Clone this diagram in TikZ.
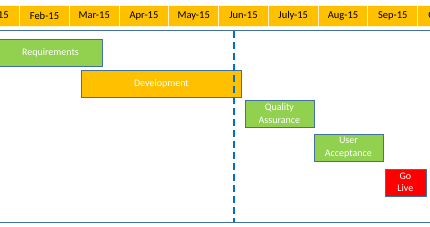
\documentclass[tikz,border=0pt]{standalone}
\usepackage{fontspec}
\setmainfont{Carlito}
\definecolor{hdr}{RGB}{255,192,0}
\definecolor{grn}{RGB}{146,208,80}
\definecolor{edge}{RGB}{65,113,156}
\definecolor{todayblue}{RGB}{0,112,192}
\begin{document}
\begin{tikzpicture}[x=1pt,y=-1pt,
  month/.style={fill=hdr,draw=white!80!hdr,line width=1.2pt,minimum width=49.75pt,minimum height=21pt,inner sep=0pt,font=\fontsize{10.5}{12}\selectfont,anchor=north west},
  bar/.style={draw=edge,line width=0.8pt,inner sep=0pt,anchor=north west,text=white,align=center,font=\fontsize{10}{12.5}\selectfont},
  rule/.style={draw=edge,line width=0.8pt}]
\useasboundingbox (0,0) rectangle (430,226);
\begin{scope}
\clip (0,0) rectangle (430,226);
\node[month] (jan) at (-30.75,4.5) {Jan-15};
\node[month] (feb) at (19,4.5) {Feb-15};
\node[month] (mar) at (68.75,4.5) {Mar-15};
\node[month] (apr) at (118.5,4.5) {Apr-15};
\node[month] (may) at (168.25,4.5) {May-15};
\node[month] (jun) at (218,4.5) {Jun-15};
\node[month] (jul) at (267.75,4.5) {July-15};
\node[month] (aug) at (317.5,4.5) {Aug-15};
\node[month] (sep) at (367.25,4.5) {Sep-15};
\node[month] (oct) at (417,4.5) {Oct-15};
\end{scope}
\coordinate (tl) at (0,30.5);
\coordinate (tr) at (430,30.5);
\coordinate (bl) at (0,222.5);
\coordinate (br) at (430,222.5);
\draw[rule] (tl) -- (tr);
\draw[rule] (bl) -- (br);
\node[bar,fill=grn,minimum width=104pt,minimum height=27pt] (req) at (-2,39) {Requirements};
\node[bar,fill=hdr,minimum width=160pt,minimum height=27pt] (dev) at (81,69.5) {Development};
\node[bar,fill=grn,minimum width=69pt,minimum height=27pt] (qa) at (244.5,99.5) {Quality\\Assurance};
\node[bar,fill=grn,minimum width=69pt,minimum height=27pt] (ua) at (313.5,133.5) {User\\Acceptance};
\node[bar,fill=red,minimum width=41pt,minimum height=27pt] (go) at (384.5,168.5) {Go\\Live};
\coordinate (dtop) at (233.5,31);
\coordinate (dbot) at (233.5,222);
\draw[draw=todayblue,line width=2pt,dash pattern=on 7pt off 4pt] (dtop) -- (dbot);
\end{tikzpicture}
\end{document}
